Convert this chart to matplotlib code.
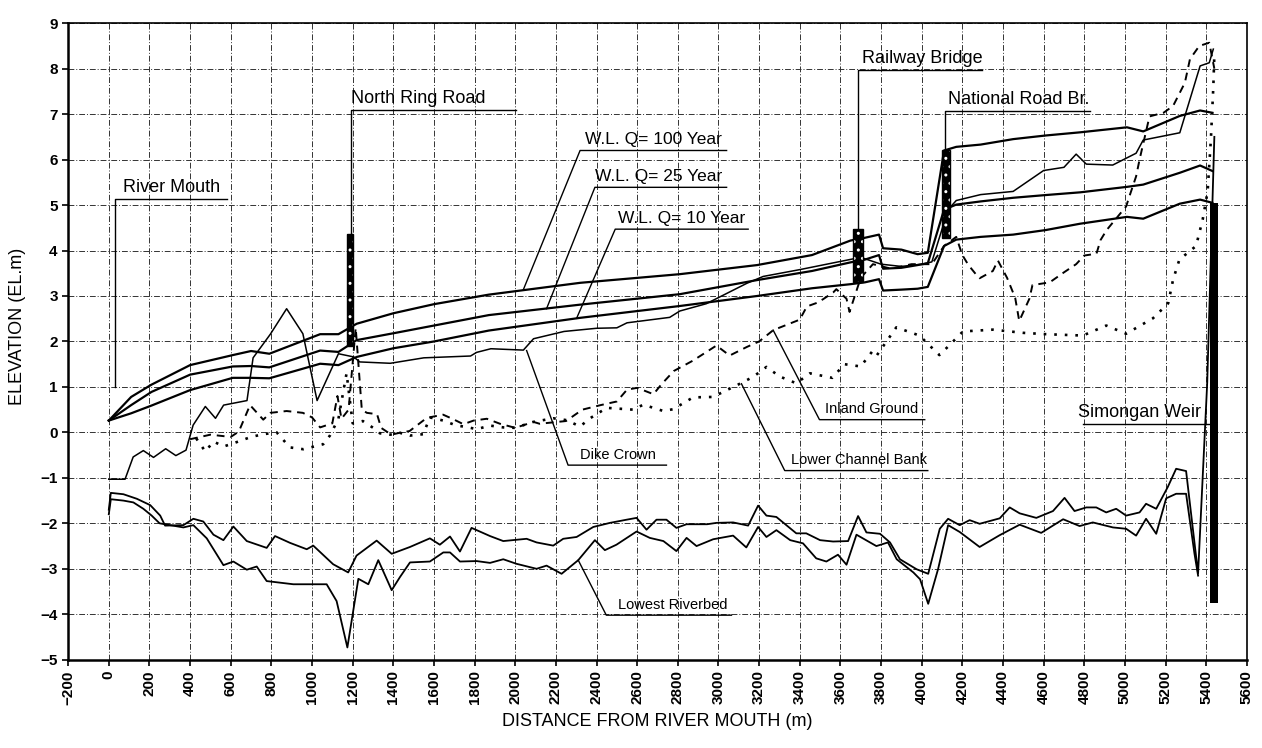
import matplotlib.pyplot as plt

plt.rcParams['font.family'] = ['Liberation Sans', 'DejaVu Sans']

# --- longitudinal profile values (distance m, EL.m) ---

# design water levels share the same stations
wl_x = [0, 110, 210, 400, 610, 700, 790, 1040, 1130, 1220, 1400, 1600, 1870,
        2320, 2810, 3190, 3460, 3650, 3720, 3790, 3810, 3900, 3980, 4030,
        4110, 4170, 4290, 4450, 4610, 4780, 5010, 5090, 5270, 5370, 5430]
wl100 = [0.26, 0.78, 1.05, 1.48, 1.70, 1.79, 1.73, 2.16, 2.16, 2.39, 2.62, 2.82, 3.03,
         3.29, 3.48, 3.68, 3.90, 4.22, 4.28, 4.35, 4.05, 4.02, 3.92, 3.95,
         6.20, 6.28, 6.33, 6.45, 6.53, 6.60, 6.71, 6.62, 6.96, 7.08, 7.03]
wl25 = [0.26, 0.60, 0.89, 1.27, 1.45, 1.46, 1.43, 1.80, 1.77, 2.03, 2.18, 2.35, 2.58,
        2.81, 3.04, 3.35, 3.55, 3.74, 3.80, 3.90, 3.60, 3.62, 3.68, 3.72,
        4.90, 5.01, 5.08, 5.16, 5.22, 5.28, 5.40, 5.45, 5.71, 5.87, 5.75]
wl10 = [0.26, 0.42, 0.59, 0.93, 1.20, 1.20, 1.19, 1.51, 1.48, 1.66, 1.85, 2.00, 2.24,
        2.52, 2.78, 3.00, 3.17, 3.26, 3.30, 3.37, 3.12, 3.14, 3.16, 3.20,
        4.10, 4.24, 4.30, 4.35, 4.45, 4.59, 4.74, 4.70, 5.03, 5.12, 5.05]

# dike crown
dike_x = [0, 80, 120, 170, 220, 280, 330, 380, 415, 475, 525, 565, 680, 710, 795,
          875, 955, 1025, 1130, 1205, 1235, 1385, 1550, 1780, 1810, 1880, 2040,
          2090, 2240, 2400, 2500, 2550, 2760, 2810, 2940, 3140, 3220, 3400, 3600,
          3700, 3800, 3900, 4000, 4050, 4130, 4170, 4290, 4450, 4600, 4700, 4760,
          4810, 4940, 5055, 5090, 5270, 5370, 5415, 5435]
dike_y = [-1.03, -1.03, -0.54, -0.40, -0.55, -0.36, -0.51, -0.39, 0.16, 0.57, 0.31,
          0.60, 0.70, 1.64, 2.16, 2.72, 2.17, 0.70, 1.73, 1.66, 1.55, 1.52, 1.64,
          1.68, 1.76, 1.84, 1.81, 2.06, 2.22, 2.29, 2.30, 2.41, 2.53, 2.67, 2.83,
          3.28, 3.43, 3.58, 3.76, 3.85, 3.70, 3.65, 3.70, 3.75, 4.90, 5.10, 5.23,
          5.30, 5.76, 5.83, 6.12, 5.90, 5.88, 6.14, 6.43, 6.59, 8.06, 8.13, 8.43]

# inland ground (dashed)
inland_x = [400, 500, 600, 640, 695, 760, 795, 875, 955, 1000, 1040, 1100, 1125,
            1145, 1180, 1215, 1245, 1270, 1320, 1340, 1390, 1430, 1480, 1565, 1645,
            1695, 1745, 1795, 1860, 1925, 2000, 2090, 2120, 2250, 2330, 2420, 2500,
            2550, 2600, 2680, 2720, 2780, 2875, 2990, 3055, 3140, 3200, 3270, 3400,
            3435, 3485, 3515, 3565, 3580, 3630, 3645, 3700, 3760, 3850, 3950, 4050,
            4110, 4170, 4200, 4230, 4270, 4285, 4350, 4375, 4420, 4460, 4480, 4530,
            4545, 4630, 4700, 4760, 4800, 4860, 4880, 4910, 5006, 5022, 5055, 5072,
            5121, 5190, 5237, 5295, 5320, 5366, 5415, 5440]
inland_y = [-0.15, -0.05, -0.10, 0.02, 0.60, 0.28, 0.43, 0.47, 0.43, 0.33, 0.11, 0.20,
            0.80, 0.30, 0.50, 2.30, 0.50, 0.43, 0.40, 0.10, -0.05, -0.01, 0.03, 0.32,
            0.39, 0.29, 0.18, 0.26, 0.30, 0.19, 0.10, 0.23, 0.19, 0.25, 0.50, 0.60,
            0.68, 0.94, 0.98, 0.84, 1.06, 1.35, 1.58, 1.91, 1.69, 1.88, 2.00, 2.25,
            2.48, 2.77, 2.85, 2.93, 3.08, 3.15, 2.94, 2.65, 3.40, 3.70, 3.60, 3.70,
            3.70, 4.10, 4.30, 3.90, 3.68, 3.46, 3.39, 3.55, 3.78, 3.40, 2.96, 2.45,
            2.94, 3.24, 3.30, 3.52, 3.70, 3.89, 3.93, 4.23, 4.45, 4.97, 5.19, 5.63,
            6.00, 6.95, 7.03, 7.18, 7.69, 8.21, 8.50, 8.57, 8.00]

# lower channel bank (dotted)
bank_x = [430, 475, 515, 565, 613, 700, 760, 826, 891, 957, 1055, 1088, 1130, 1170,
          1200, 1250, 1301, 1334, 1384, 1433, 1482, 1547, 1580, 1646, 1711, 1760,
          1810, 1875, 1941, 2000, 2088, 2187, 2252, 2319, 2368, 2450, 2581, 2630,
          2729, 2777, 2875, 2973, 3105, 3170, 3236, 3301, 3383, 3450, 3560, 3620,
          3700, 3760, 3780, 3875, 3989, 4087, 4137, 4203, 4350, 4498, 4613, 4793,
          4908, 5006, 5138, 5213, 5237, 5268, 5350, 5383, 5407, 5423, 5435, 5440]
bank_y = [-0.13, -0.42, -0.20, -0.31, -0.24, -0.10, -0.04, 0.00, -0.33, -0.37, -0.26,
          -0.07, 0.30, 1.30, 0.20, 0.25, 0.10, -0.02, -0.05, -0.01, -0.07, -0.04,
          0.33, 0.26, 0.15, 0.12, 0.07, 0.15, 0.11, 0.10, 0.23, 0.31, 0.27, 0.13,
          0.31, 0.54, 0.50, 0.61, 0.47, 0.51, 0.77, 0.78, 1.07, 1.22, 1.44, 1.23,
          1.08, 1.30, 1.20, 1.50, 1.45, 1.80, 1.70, 2.31, 2.13, 1.70, 1.92, 2.22,
          2.26, 2.19, 2.16, 2.13, 2.35, 2.17, 2.51, 2.84, 3.36, 3.80, 4.10, 4.69,
          5.30, 6.45, 7.60, 8.30]

# riverbed, two traces
bed_a_x = [0, 10, 72, 138, 204, 253, 277, 367, 416, 465, 515, 564, 613, 679, 777,
           818, 892, 974, 1006, 1104, 1178, 1219, 1318, 1392, 1482, 1580, 1629,
           1679, 1728, 1785, 1876, 1941, 2056, 2105, 2187, 2236, 2302, 2384, 2466,
           2548, 2597, 2646, 2695, 2744, 2793, 2843, 2944, 2990, 3072, 3146, 3195,
           3236, 3285, 3353, 3383, 3432, 3500, 3564, 3638, 3687, 3728, 3795, 3844,
           3893, 3975, 4032, 4089, 4130, 4187, 4236, 4285, 4384, 4433, 4482, 4564,
           4646, 4703, 4752, 4810, 4859, 4908, 4957, 5006, 5072, 5104, 5154, 5211,
           5252, 5301, 5360, 5405, 5440]
bed_a_y = [-1.70, -1.33, -1.36, -1.46, -1.60, -1.83, -2.05, -2.04, -1.90, -1.96,
           -2.25, -2.37, -2.07, -2.39, -2.54, -2.28, -2.43, -2.57, -2.49, -2.90,
           -3.08, -2.71, -2.38, -2.67, -2.52, -2.33, -2.47, -2.29, -2.62, -2.10,
           -2.28, -2.39, -2.34, -2.42, -2.49, -2.34, -2.30, -2.08, -1.99, -1.92,
           -1.88, -2.14, -1.92, -1.92, -2.10, -2.02, -2.02, -1.99, -1.98, -2.05,
           -1.61, -1.83, -1.86, -2.11, -2.22, -2.22, -2.37, -2.40, -2.39, -1.84,
           -2.20, -2.23, -2.42, -2.79, -3.01, -3.11, -2.12, -1.90, -2.04, -1.93,
           -2.01, -1.89, -1.65, -1.78, -1.88, -1.73, -1.44, -1.73, -1.65, -1.65,
           -1.76, -1.68, -1.83, -1.76, -1.57, -1.68, -1.20, -0.80, -0.85, -3.10,
           1.10, 6.50]
bed_b_x = [0, 10, 72, 121, 170, 211, 250, 367, 416, 482, 564, 613, 679, 728, 777,
           908, 1072, 1121, 1174, 1228, 1277, 1326, 1392, 1433, 1482, 1580, 1646,
           1679, 1728, 1810, 1876, 1941, 2006, 2105, 2154, 2228, 2310, 2392, 2441,
           2498, 2597, 2662, 2729, 2793, 2843, 2892, 2974, 3072, 3137, 3195, 3236,
           3285, 3353, 3416, 3481, 3531, 3588, 3630, 3679, 3777, 3834, 3877, 3959,
           3992, 4032, 4081, 4130, 4187, 4285, 4384, 4482, 4588, 4696, 4777, 4842,
           4941, 5006, 5055, 5104, 5154, 5203, 5252, 5301, 5342, 5360]
bed_b_y = [-1.80, -1.47, -1.50, -1.54, -1.68, -1.83, -2.00, -2.09, -2.04, -2.33,
           -2.92, -2.84, -3.02, -2.95, -3.27, -3.34, -3.34, -3.71, -4.73, -3.22,
           -3.34, -2.81, -3.47, -3.18, -2.86, -2.84, -2.64, -2.64, -2.84, -2.83,
           -2.87, -2.79, -2.89, -3.00, -2.93, -3.11, -2.81, -2.37, -2.59, -2.47,
           -2.18, -2.32, -2.39, -2.61, -2.32, -2.50, -2.35, -2.27, -2.53, -2.08,
           -2.30, -2.15, -2.37, -2.44, -2.77, -2.84, -2.69, -2.91, -2.25, -2.50,
           -2.42, -2.79, -3.08, -3.23, -3.77, -3.00, -2.04, -2.19, -2.52, -2.26,
           -2.03, -2.21, -1.91, -2.06, -1.98, -2.09, -2.12, -2.27, -1.90, -2.23,
           -1.45, -1.35, -1.35, -2.66, -3.15]

# bridge piers (North Ring Road, Railway Bridge, National Road Br.) and the weir
pier_left = [1172, 3664, 4101]
pier_width = [30, 48, 40]
pier_bottom = [1.9, 3.3, 4.27]
pier_top = [4.36, 4.47, 6.22]
weir_left = 5420
weir_width = 36
weir_bottom = -3.76
weir_top = 5.05

x_ticks = list(range(-200, 5601, 200))
y_ticks = list(range(-5, 10))

fig = plt.figure(figsize=(12.62, 7.48), dpi=100)
ax = fig.add_axes([0.054, 0.118, 0.934, 0.851])

# profile lines
ax.plot(wl_x, wl100, color='black', lw=1.6, zorder=4)
ax.plot(wl_x, wl25, color='black', lw=1.6, zorder=4)
ax.plot(wl_x, wl10, color='black', lw=1.6, zorder=4)
ax.plot(dike_x, dike_y, color='black', lw=1.1, zorder=4)
ax.plot(inland_x, inland_y, color='black', lw=1.4, linestyle=(0, (4, 3)), zorder=4)
ax.plot(bank_x, bank_y, color='black', lw=1.9, linestyle=(0, (1, 3)), zorder=4)
ax.plot(bed_a_x, bed_a_y, color='black', lw=1.3, zorder=4)
ax.plot(bed_b_x, bed_b_y, color='black', lw=1.3, zorder=4)

# piers: black with a white dotted hatch, then a black outline
heights = [t - b for t, b in zip(pier_top, pier_bottom)]
ax.bar(pier_left, heights, bottom=pier_bottom, width=pier_width, align='edge',
       color='black', edgecolor='white', hatch='..', linewidth=0, zorder=5)
ax.bar(pier_left, heights, bottom=pier_bottom, width=pier_width, align='edge',
       fill=False, edgecolor='black', linewidth=1.0, zorder=5)
ax.bar([weir_left], [weir_top - weir_bottom], bottom=weir_bottom, width=weir_width,
       align='edge', color='black', zorder=5)


def callout(text, tx, uy, ux0, ux1, px, py, size):
    # underline plus leader to the feature
    ax.plot([ux1, ux0, px], [uy, uy, py], color='black', lw=1.0, zorder=6)
    ax.text(tx, uy + 0.07, text, fontsize=size, ha='left', va='bottom', zorder=7)


callout('River Mouth', 70, 5.13, 31, 582, 31, 1.0, 13)
callout('North Ring Road', 1190, 7.08, 1190, 2006, 1190, 4.36, 13)
callout('W.L. Q= 100 Year', 2342, 6.20, 2319, 3040, 2039, 3.13, 12.5)
callout('W.L. Q= 25 Year', 2392, 5.39, 2392, 3040, 2154, 2.72, 12.5)
callout('W.L. Q= 10 Year', 2505, 4.47, 2492, 3146, 2302, 2.51, 12.5)
callout('Railway Bridge', 3705, 7.97, 3686, 4296, 3686, 4.47, 13)
callout('National Road Br.', 4129, 7.06, 4115, 4827, 4115, 6.22, 13)
callout('Dike Crown', 2319, -0.72, 2260, 2744, 2056, 1.80, 10.5)
callout('Lowest Riverbed', 2505, -4.02, 2448, 3064, 2310, -2.81, 10.5)
callout('Lower Channel Bank', 3359, -0.84, 3326, 4030, 3113, 1.07, 10.5)
callout('Inland Ground', 3523, 0.28, 3497, 4015, 3269, 2.25, 10.5)
callout('Simongan Weir', 4768, 0.19, 4792, 5420, 4792, 0.19, 13)

# axes, ticks and grid
ax.set_xlim(-200, 5600)
ax.set_ylim(-5, 9)
ax.set_xticks(x_ticks)
ax.set_yticks(y_ticks)
ax.tick_params(direction='out', length=4, width=1.2, labelsize=11)
ax.tick_params(axis='x', labelrotation=90)
for lbl in ax.get_xticklabels() + ax.get_yticklabels():
    lbl.set_fontweight('bold')
ax.grid(True, color='0.2', linestyle=(0, (6, 2, 1, 2)), linewidth=0.7)
ax.set_axisbelow(True)
ax.spines['left'].set_linewidth(1.8)
ax.spines['bottom'].set_linewidth(1.8)
ax.spines['top'].set_linewidth(1.2)
ax.spines['right'].set_linewidth(1.2)

ax.set_xlabel('DISTANCE FROM RIVER MOUTH (m)', fontsize=13, labelpad=6)
fig.text(18 / 1262, 1 - 326 / 748, 'ELEVATION (EL.m)', rotation=90,
         fontsize=13, ha='center', va='center')

fig.savefig('out.png', dpi=100)
